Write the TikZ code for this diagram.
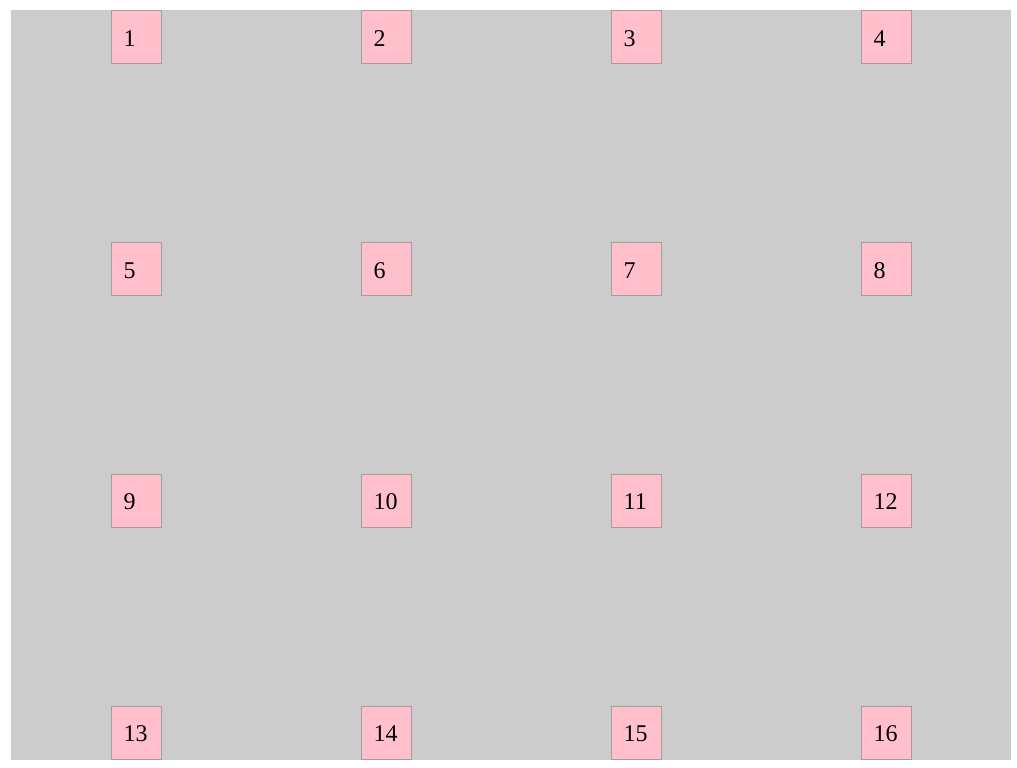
\documentclass[tikz,border=0pt]{standalone}
\usepackage{fontspec}
\setmainfont{Liberation Serif}
\definecolor{bggray}{HTML}{CCCCCC}
\definecolor{boxpink}{HTML}{FFC0CB}
\definecolor{boxline}{HTML}{A0A0A0}
\begin{document}
\begin{tikzpicture}[x=1pt,y=-1pt,
  cell/.style={draw=boxline,line width=1pt,fill=boxpink,minimum width=50.5pt,minimum height=53pt,inner sep=0pt,anchor=north west},
  celltext/.style={anchor=base west,inner sep=0pt,font=\fontsize{24}{28}\selectfont}]
\useasboundingbox (0,0) rectangle (1017,768);
\fill[bggray] (11,10) rectangle (1011,760);
\foreach \r in {0,1,2,3}{
  \foreach \c in {0,1,2,3}{
    \pgfmathtruncatemacro{\n}{\r*4+\c+1}
    \pgfmathsetmacro{\xx}{110.5+250*\c}
    \pgfmathsetmacro{\yy}{10.5+231.67*\r}
    \node[cell] (b\n) at (\xx,\yy) {};
    \node[celltext] (t\n) at ([xshift=13pt,yshift=-36pt]b\n.north west) {\n};
  }
}
\end{tikzpicture}
\end{document}
